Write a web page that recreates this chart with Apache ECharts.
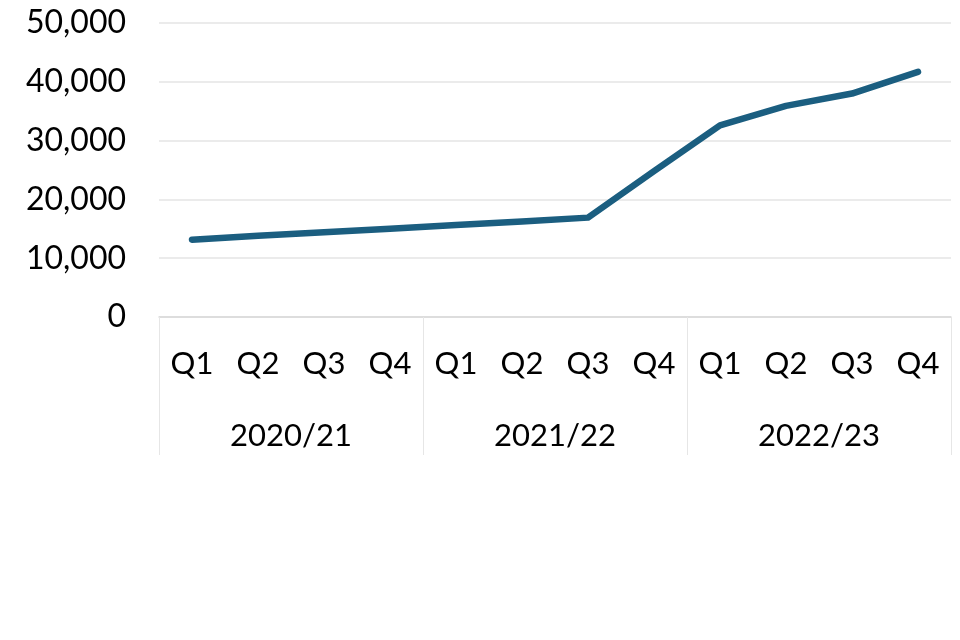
<!DOCTYPE html>
<html>
<head>
    <meta charset="UTF-8">
    <title>Quarterly chart</title>
    <script src="https://cdn.jsdelivr.net/npm/echarts@6/dist/echarts.min.js"></script>
    <style>
        html, body { margin: 0; padding: 0; background: #fff; }
        #chart { width: 960px; height: 640px; }
    </style>
</head>
<body>
    <div id="chart"></div>

    <script>
        var quarters = ['Q1', 'Q2', 'Q3', 'Q4', 'Q1', 'Q2', 'Q3', 'Q4', 'Q1', 'Q2', 'Q3', 'Q4'];
        var years = ['2020/21', '2021/22', '2022/23'];
        var values = [13150, 13800, 14400, 15000, 15650, 16250, 16900, 24800, 32600, 35900, 38000, 41700];
        var yTicks = [0, 10000, 20000, 30000, 40000, 50000];

        var font = 'Lato';
        var chart = echarts.init(document.getElementById('chart'), null, {renderer: 'canvas'});

        chart.setOption({
            animation: false,
            grid: {left: 159, right: 9, top: 23, bottom: 323},
            xAxis: [
                {
                    type: 'category',
                    data: quarters,
                    boundaryGap: true,
                    axisLine: {lineStyle: {color: '#d9d9d9', width: 1.5}},
                    axisTick: {show: false},
                    axisLabel: {
                        interval: 0, margin: 31,
                        fontFamily: font, fontSize: 31, color: '#000'
                    }
                },
                {
                    type: 'category',
                    data: years,
                    position: 'bottom',
                    boundaryGap: true,
                    axisLine: {show: false},
                    axisTick: {show: true, length: 138, lineStyle: {color: '#e6e6e6', width: 1}},
                    axisLabel: {
                        interval: 0, margin: 103,
                        fontFamily: font, fontSize: 31, color: '#000'
                    }
                }
            ],
            yAxis: {
                type: 'value',
                min: yTicks[0],
                max: yTicks[yTicks.length - 1],
                interval: 10000,
                axisLine: {show: false},
                axisTick: {show: false},
                splitLine: {lineStyle: {color: '#e4e4e4', width: 1.5}},
                axisLabel: {
                    margin: 33,
                    fontFamily: font, fontSize: 32, color: '#000',
                    formatter: function (v) { return v.toLocaleString('en-US'); }
                }
            },
            series: [{
                type: 'line',
                xAxisIndex: 0,
                data: values,
                showSymbol: false,
                symbol: 'none',
                lineStyle: {color: '#1b5e80', width: 6.5, cap: 'round', join: 'round'}
            }]
        });
    </script>
</body>
</html>
